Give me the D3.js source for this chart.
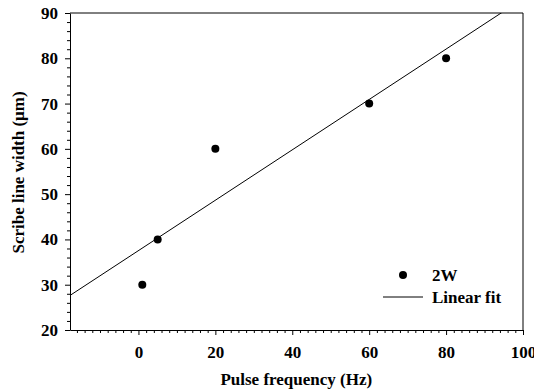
<!DOCTYPE html>
<html>
<head>
<meta charset="utf-8">
<script src="https://cdn.jsdelivr.net/npm/d3@7"></script>
<style>
  body { margin: 0; background: #fff; }
  svg text { font-family: "Liberation Serif", "Times New Roman", serif; font-weight: bold; fill: #000; }
</style>
</head>
<body>
<div id="chart"></div>
<script>
// data
var frequency = [1, 5, 20, 60, 80];
var lineWidth = [30, 40, 60, 70, 80];
var xTicks = [0, 20, 40, 60, 80, 100];
var yTicks = [20, 30, 40, 50, 60, 70, 80, 90];
var legendLabels = ["2W", "Linear fit"];

var margin = { top: 13, right: 11, bottom: 61, left: 70 };
var width = 534 - margin.left - margin.right;
var height = 391 - margin.top - margin.bottom;

var x = d3.scaleLinear().domain([-17.8, 100]).range([0, width]);
var y = d3.scaleLinear().domain([20, 90]).range([height, 0]);

var svg = d3.select("#chart")
  .append("svg")
  .attr("width", 534)
  .attr("height", 391)
  .append("g")
  .attr("transform", "translate(" + margin.left + "," + margin.top + ")");

svg.append("clipPath").attr("id", "clip")
  .append("rect").attr("width", width).attr("height", height);

// least squares fit through the points
var mx = d3.mean(frequency), my = d3.mean(lineWidth);
var sxy = d3.sum(frequency, function (f, i) { return (f - mx) * (lineWidth[i] - my); });
var sxx = d3.sum(frequency, function (f) { return (f - mx) * (f - mx); });
var slope = sxy / sxx;
var intercept = my - slope * mx;
var fitX = x.domain();

svg.append("line")
  .attr("clip-path", "url(#clip)")
  .attr("x1", x(fitX[0]))
  .attr("y1", y(intercept + slope * fitX[0]))
  .attr("x2", x(fitX[1]))
  .attr("y2", y(intercept + slope * fitX[1]))
  .attr("stroke", "#000")
  .attr("stroke-width", 1);

// minor ticks
var xMinor = d3.range(-16, 100, 2).filter(function (v) { return v % 20 !== 0; });
var yMinor = d3.range(22, 90, 2).filter(function (v) { return v % 10 !== 0; });

svg.append("g")
  .attr("transform", "translate(0," + height + ")")
  .call(d3.axisBottom(x).tickValues(xMinor).tickSize(3).tickFormat(""))
  .call(function (g) { g.select(".domain").remove(); });

svg.append("g")
  .call(d3.axisLeft(y).tickValues(yMinor).tickSize(3).tickFormat(""))
  .call(function (g) { g.select(".domain").remove(); });

// main axes
var xAxis = svg.append("g")
  .attr("transform", "translate(0," + height + ")")
  .call(d3.axisBottom(x).tickValues(xTicks).tickSize(5).tickSizeOuter(0).tickPadding(11));

var yAxis = svg.append("g")
  .call(d3.axisLeft(y).tickValues(yTicks).tickSize(5).tickSizeOuter(0).tickPadding(7));

svg.selectAll(".tick text").style("font-size", "17px");
svg.selectAll(".domain").attr("stroke", "#000");

// top and right border
svg.append("path")
  .attr("d", "M0,0H" + width + "V" + height)
  .attr("fill", "none")
  .attr("stroke", "#000");

// points
svg.selectAll(".dot")
  .data(frequency)
  .enter()
  .append("circle")
  .attr("class", "dot")
  .attr("cx", function (d) { return x(d); })
  .attr("cy", function (d, i) { return y(lineWidth[i]); })
  .attr("r", 4)
  .attr("fill", "#000");

// legend
var legend = svg.append("g").attr("transform", "translate(313,262)");
legend.append("circle").attr("cx", 20).attr("cy", 0).attr("r", 4).attr("fill", "#000");
legend.append("text").attr("x", 49).attr("y", 6).style("font-size", "17px").text(legendLabels[0]);
legend.append("line").attr("x1", 0).attr("x2", 40).attr("y1", 22).attr("y2", 22)
  .attr("stroke", "#000").attr("stroke-width", 1);
legend.append("text").attr("x", 49).attr("y", 28).style("font-size", "17px").text(legendLabels[1]);

// axis titles
svg.append("text")
  .attr("x", x(40) + 4)
  .attr("y", height + 55)
  .attr("text-anchor", "middle")
  .style("font-size", "17px")
  .text("Pulse frequency (Hz)");

svg.append("text")
  .attr("transform", "translate(-46," + (y(55) + 1) + ") rotate(-90)")
  .attr("text-anchor", "middle")
  .style("font-size", "17px")
  .text("Scribe line width (\u03bcm)");
</script>
</body>
</html>
